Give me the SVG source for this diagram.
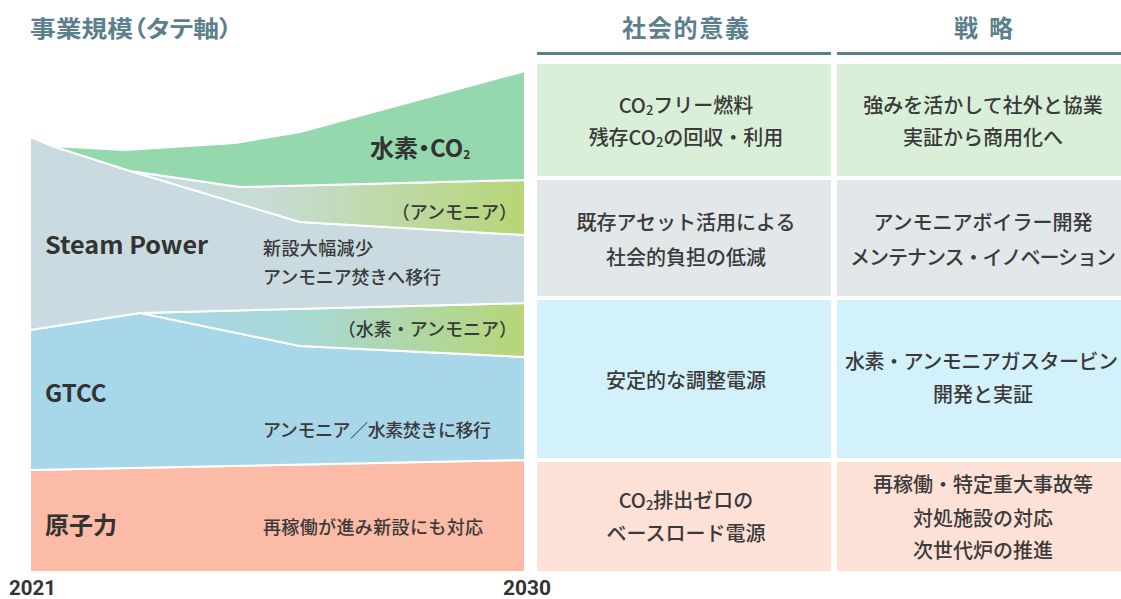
<svg xmlns="http://www.w3.org/2000/svg" width="1121" height="599" viewBox="0 0 1121 599">
<defs>
<linearGradient id="gAmm" x1="130" y1="0" x2="525" y2="0" gradientUnits="userSpaceOnUse">
<stop offset="0" stop-color="#c9dbe0"/><stop offset="0.35" stop-color="#c6dcd4"/><stop offset="1" stop-color="#b6d676"/>
</linearGradient>
<linearGradient id="gH2A" x1="140" y1="0" x2="525" y2="0" gradientUnits="userSpaceOnUse">
<stop offset="0" stop-color="#a9d7ea"/><stop offset="0.4" stop-color="#a8d8d8"/><stop offset="1" stop-color="#b6d676"/>
</linearGradient>
<style>
.band{stroke:#ffffff;stroke-width:2;stroke-linejoin:round}
.hdr{font-family:"Noto Sans CJK JP","Noto Sans",sans-serif;font-weight:700;fill:#5c7f8d}
.big{font-family:"Noto Sans CJK JP","Noto Sans",sans-serif;font-weight:700;fill:#333;font-size:24px}
.lbl{font-family:"Noto Sans CJK JP",sans-serif;font-weight:500;fill:#3a3a3a;font-size:18px}
.cell{font-family:"Noto Sans CJK JP",sans-serif;font-weight:500;fill:#3a3a3a;font-size:20px;text-anchor:middle}
.yr{font-family:Roboto,"Noto Sans",sans-serif;font-weight:700;fill:#333;font-size:21px}
</style>
</defs>
<rect width="1121" height="599" fill="#ffffff"/>

<text class="hdr" x="30" y="37" font-size="23" textLength="202" lengthAdjust="spacingAndGlyphs" style="font-feature-settings:'palt'">事業規模（タテ軸）</text>

<g id="chart">
<g id="nuclear"><polygon class="band" fill="#fbbba6" points="30,470 525,460 525,572 30,572"/></g>
<g id="gtcc"><polygon class="band" fill="#a9d7ea" points="30,330 140,313 300,346 525,357 525,460 30,470"/></g>
<g id="h2amm"><polygon class="band" fill="url(#gH2A)" points="140,313 525,303 525,357 300,346"/></g>
<g id="steam"><polygon class="band" fill="#c9dbe0" points="30,137 52,146 130,171 300,222 525,235 525,303 140,313 30,330"/></g>
<g id="amm"><polygon class="band" fill="url(#gAmm)" points="130,171 240,187 525,180 525,235 300,222"/></g>
<g id="h2co2"><polygon class="band" fill="#95d8ad" points="52,146 125,150 235,143 300,132 525,71 525,180 240,187 130,171"/></g>
</g>

<g id="chart-labels">
<text class="big" x="370" y="157" font-size="19" style="font-feature-settings:'palt'">水素・CO<tspan font-size="12" dy="2">2</tspan></text>
<text class="lbl" x="517" y="219" text-anchor="end" font-size="16">（アンモニア）</text>
<text class="big" x="45" y="254" textLength="163" lengthAdjust="spacingAndGlyphs">Steam Power</text>
<text class="lbl" x="263" y="255" textLength="110">新設大幅減少</text>
<text class="lbl" x="263" y="284" textLength="178">アンモニア焚きへ移行</text>
<text class="lbl" x="517" y="336" text-anchor="end" font-size="16">（水素・アンモニア）</text>
<text class="big" x="45" y="402">GTCC</text>
<text class="lbl" x="263" y="437" textLength="228">アンモニア／水素焚きに移行</text>
<text class="big" x="45" y="534">原子力</text>
<text class="lbl" x="263" y="534" textLength="220">再稼働が進み新設にも対応</text>
<text class="yr" x="9" y="595" textLength="47" lengthAdjust="spacingAndGlyphs">2021</text>
<text class="yr" x="503" y="595" textLength="48" lengthAdjust="spacingAndGlyphs">2030</text>
</g>

<g id="header-social">
<text class="hdr" x="622" y="37" font-size="24" textLength="127">社会的意義</text>
<rect x="537" y="52" width="294" height="3" fill="#5c7f8d"/>
</g>
<g id="header-strategy">
<text class="hdr" x="954" y="37" font-size="24" textLength="59">戦 略</text>
<rect x="837" y="52" width="284" height="3" fill="#5c7f8d"/>
</g>

<g id="row-h2">
<rect x="537" y="64" width="294" height="112" fill="#d9efd8"/>
<rect x="837" y="64" width="284" height="112" fill="#d9efd8"/>
<text class="cell" x="686" y="113">CO<tspan font-size="13" dy="2">2</tspan><tspan dy="-2">フリー燃料</tspan></text>
<text class="cell" x="686" y="145">残存CO<tspan font-size="13" dy="2">2</tspan><tspan dy="-2">の回収・利用</tspan></text>
<text class="cell" x="983" y="113">強みを活かして社外と協業</text>
<text class="cell" x="983" y="145">実証から商用化へ</text>
</g>
<g id="row-steam">
<rect x="537" y="180" width="294" height="116" fill="#e2e7e9"/>
<rect x="837" y="180" width="284" height="116" fill="#e2e7e9"/>
<text class="cell" x="686" y="230">既存アセット活用による</text>
<text class="cell" x="686" y="265">社会的負担の低減</text>
<text class="cell" x="983" y="230">アンモニアボイラー開発</text>
<text class="cell" x="983" y="265" textLength="266">メンテナンス・イノベーション</text>
</g>
<g id="row-gtcc">
<rect x="537" y="300" width="294" height="158" fill="#d3f1fb"/>
<rect x="837" y="300" width="284" height="158" fill="#d3f1fb"/>
<text class="cell" x="686" y="388">安定的な調整電源</text>
<text class="cell" x="845" y="369" style="text-anchor:start" textLength="273">水素・アンモニアガスタービン</text>
<text class="cell" x="983" y="402">開発と実証</text>
</g>
<g id="row-nuclear">
<rect x="537" y="462" width="294" height="109" fill="#fde0d6"/>
<rect x="837" y="462" width="284" height="109" fill="#fde0d6"/>
<text class="cell" x="686" y="508">CO<tspan font-size="13" dy="2">2</tspan><tspan dy="-2">排出ゼロの</tspan></text>
<text class="cell" x="686" y="541">ベースロード電源</text>
<text class="cell" x="983" y="492">再稼働・特定重大事故等</text>
<text class="cell" x="983" y="526">対処施設の対応</text>
<text class="cell" x="983" y="558">次世代炉の推進</text>
</g>
</svg>
